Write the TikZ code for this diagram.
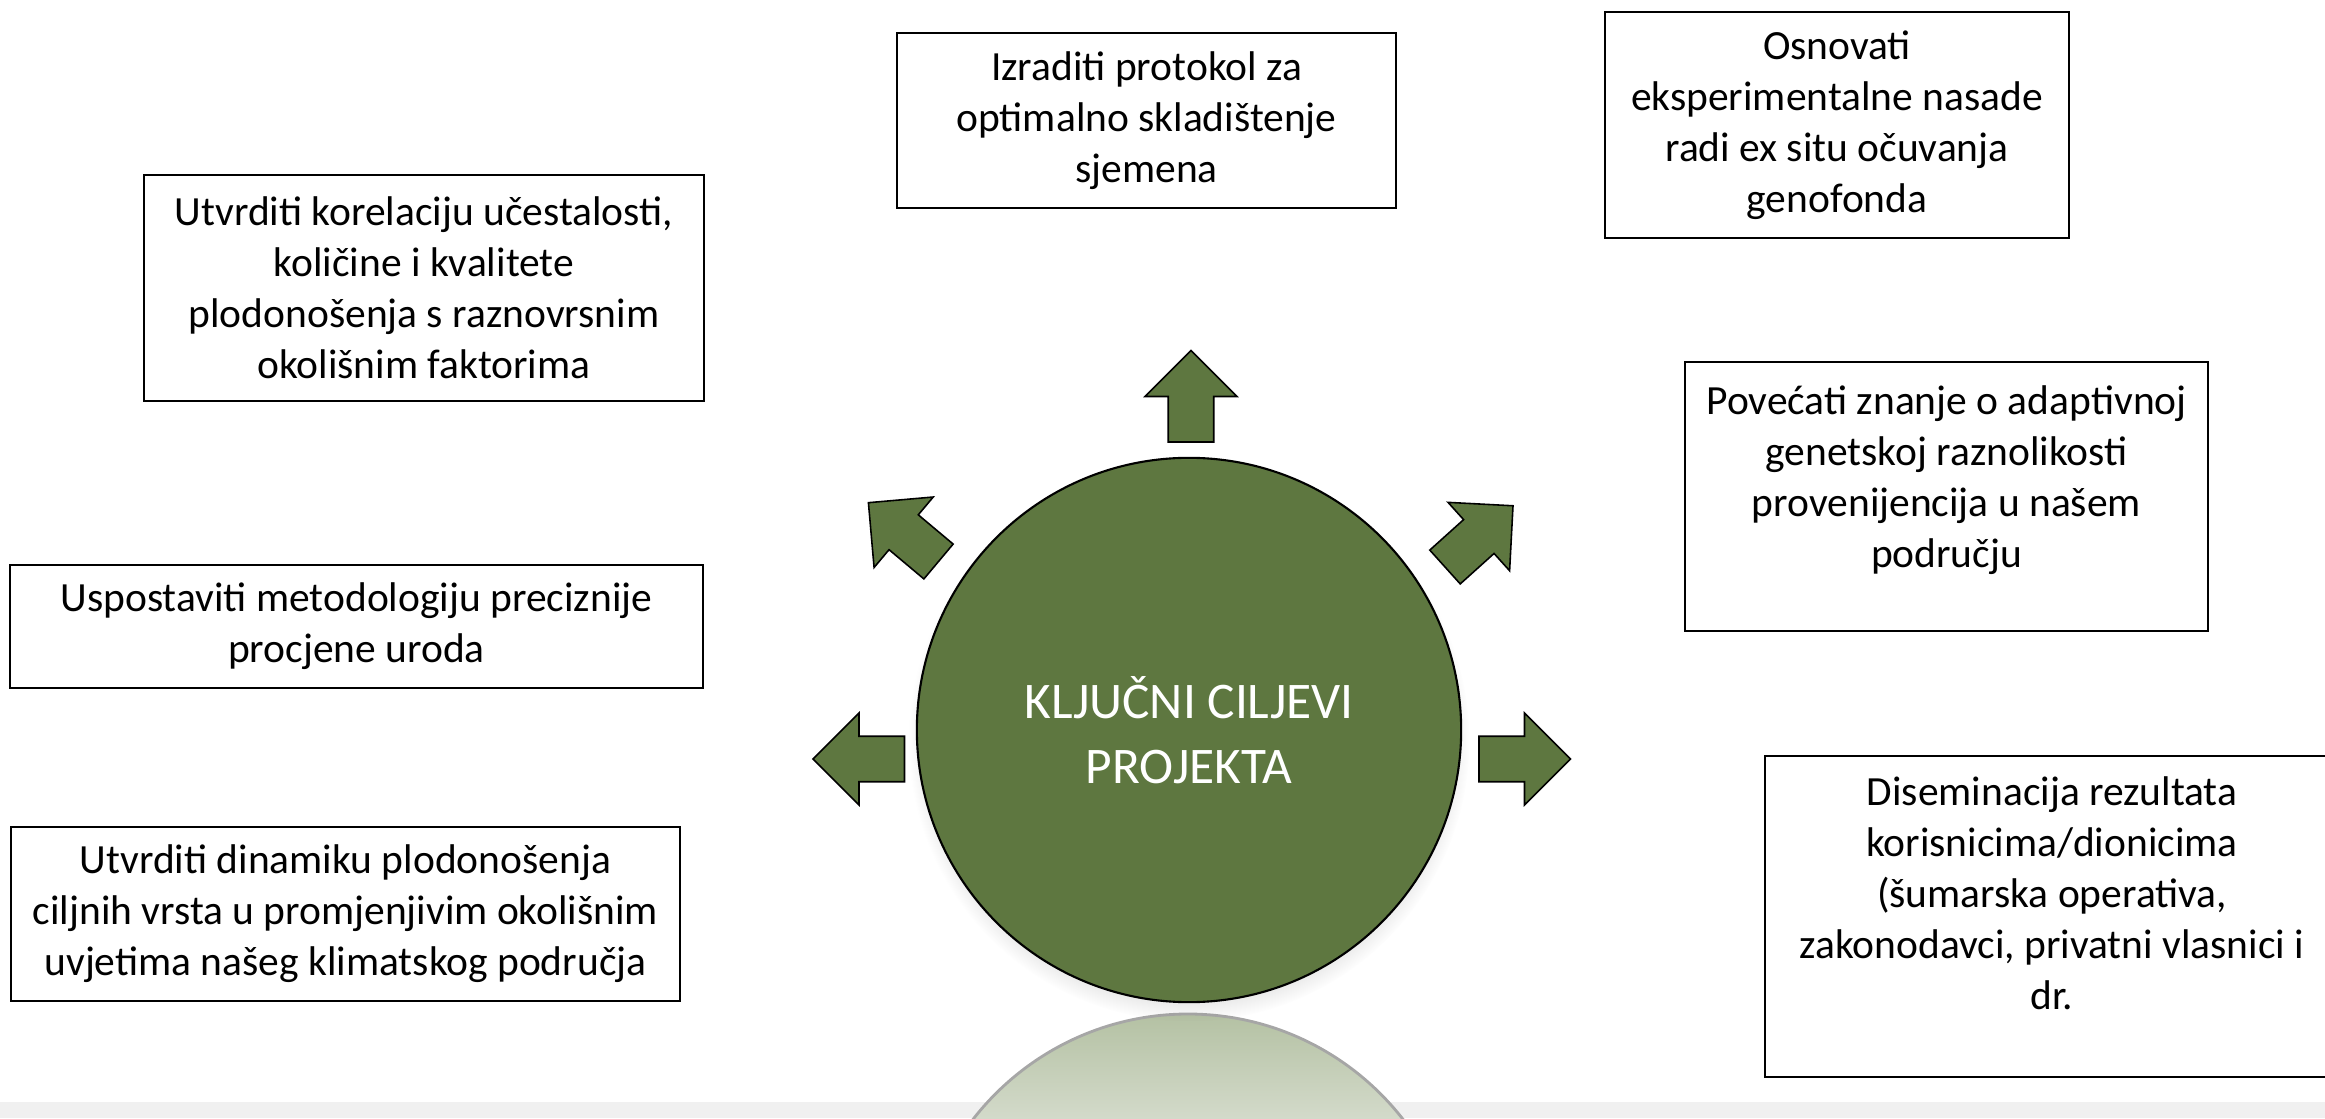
\documentclass[tikz,border=0pt]{standalone}
\usepackage{fontspec}
\setmainfont{Carlito}
\usetikzlibrary{shadows}
\definecolor{goalGreen}{RGB}{94,119,64}
\definecolor{reflTop}{RGB}{180,193,163}
\definecolor{reflBottom}{RGB}{211,218,202}
\definecolor{bandGray}{RGB}{240,240,240}

\tikzset{
  goalbox/.style={draw=black, line width=0.6pt, fill=white, align=center,
    font=\fontsize{11.8}{14.5}\selectfont, inner sep=0pt},
  goaltext/.style={align=center, font=\fontsize{11.8}{14.5}\selectfont, inner sep=0pt},
  goalarrow/.pic={
    \draw[fill=goalGreen, line width=0.45pt, line join=miter]
      (0,-22.75) -- (45.5,-22.75) -- (45.5,-46) -- (91.5,0)
      -- (45.5,46) -- (45.5,22.75) -- (0,22.75) -- cycle;
  }
}

\begin{document}
\begin{tikzpicture}[x=0.01cm, y=0.01cm]
  \useasboundingbox (0,0) rectangle (2325,1118);
  \clip (0,0) rectangle (2325,1118);

  % floor and reflection
  \fill[bandGray] (0,0) rectangle (2325,16);
  \begin{scope}
    \clip (1188,-168) circle (272);
    \shade[top color=reflTop, bottom color=reflBottom] (900,0) rectangle (1480,104);
  \end{scope}
  \draw[black!35, line width=0.8pt] (1188,-168) circle (272);

  % centre
  \node[circle, minimum size=5.44cm, fill=goalGreen, draw=black, line width=0.6pt,
    text=white, align=center, font=\fontsize{14.6}{18.4}\selectfont,
    circular drop shadow={shadow scale=1.03, shadow xshift=0pt, shadow yshift=-3pt, opacity=0.35}]
    (goal) at (1189,388) {KLJUČNI CILJEVI\\PROJEKTA};

  % arrows round the circle
  \pic[rotate=90]  at (1191,676)   {goalarrow};
  \pic[rotate=180] at (904.5,359)  {goalarrow};
  \pic[rotate=0]   at (1479,359)   {goalarrow};
  \pic[rotate=140] at (938.5,556.5) {goalarrow};
  \pic[rotate=42]  at (1445,551)   {goalarrow};

  % goals
  \node[goalbox, minimum width=4.99cm, minimum height=1.75cm] (seed) at (1146.5,997.5)
    {Izraditi protokol za\\optimalno skladištenje\\sjemena};
  \node[goalbox, minimum width=4.64cm, minimum height=2.26cm] (plots) at (1837,993)
    {Osnovati\\eksperimentalne nasade\\radi ex situ očuvanja\\genofonda};
  \node[goalbox, minimum width=5.6cm, minimum height=2.26cm] (fruiting) at (424,830)
    {Utvrditi korelaciju učestalosti,\\količine i kvalitete\\plodonošenja s raznovrsnim\\okolišnim faktorima};
  \node[goalbox, minimum width=5.23cm, minimum height=2.69cm] (genetic) at (1946.5,621.5) {};
  \node[goaltext] (genetictext) at (1946.5,638)
    {Povećati znanje o adaptivnoj\\genetskoj raznolikosti\\provenijencija u našem\\području};
  \node[goalbox, minimum width=6.93cm, minimum height=1.23cm] (yield) at (356.5,491.5)
    {Uspostaviti metodologiju preciznije\\procjene uroda};
  \node[goalbox, minimum width=6.69cm, minimum height=1.74cm] (dynamics) at (345.5,204)
    {Utvrditi dinamiku plodonošenja\\ciljnih vrsta u promjenjivim okolišnim\\uvjetima našeg klimatskog područja};
  \node[goalbox, minimum width=5.74cm, minimum height=3.21cm] (users) at (2052,201.5) {};
  \node[goaltext] (userstext) at (2052,225)
    {Diseminacija rezultata\\korisnicima/dionicima\\(šumarska operativa,\\zakonodavci, privatni vlasnici i\\dr.};
\end{tikzpicture}
\end{document}
